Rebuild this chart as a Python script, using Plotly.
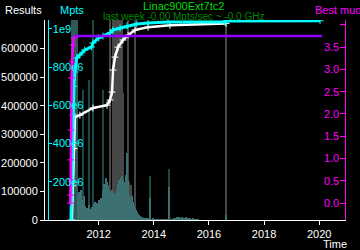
import plotly.graph_objects as go
import pandas as pd

FONT = "Liberation Sans, Arial, sans-serif"

# ---- cumulative results (left axis) ----
res_dates = ["2011-01-11", "2011-01-25", "2011-02-07", "2011-02-20", "2011-04-27", "2011-10-17",
             "2012-04-20", "2012-05-30", "2012-06-26", "2012-07-08", "2012-08-04", "2012-09-13",
             "2012-11-18", "2013-01-24", "2013-04-27", "2013-10-16", "2014-08-03", "2016-08-15"]
res_vals = [0, 120000, 250000, 361000, 367000, 392000,
            402000, 420000, 448000, 525000, 570000, 605000,
            630000, 647000, 665000, 675000, 682000, 688000]

# ---- cumulative Mpts ----
mpts_dates = ["2010-12-29", "2011-01-11", "2011-01-25", "2011-02-07", "2011-02-20", "2011-03-15",
              "2011-04-27", "2011-06-30", "2011-09-29", "2011-10-17", "2012-01-01", "2012-02-26",
              "2012-05-30", "2012-07-08", "2012-10-10", "2013-01-11", "2013-05-19", "2013-10-16",
              "2014-07-07", "2016-07-28", "2016-08-15", "2020-01-13"]
mpts_vals = [0, 200e6, 550e6, 700e6, 775e6, 848e6,
             864e6, 890e6, 906e6, 927e6, 953e6, 963e6,
             979e6, 995e6, 1005e6, 1016e6, 1026e6, 1031e6,
             1037e6, 1037e6, 1042e6, 1043e6]

# ---- best muon ----
muon_dates = ["2010-12-20", "2010-12-24", "2010-12-26", "2010-12-28", "2010-12-30",
              "2011-01-05", "2011-01-11", "2011-01-25", "2011-02-07"]
muon_vals = [0.0, 0.18, 0.52, 0.97, 1.64, 2.81, 3.17, 3.55, 3.71]
best_dates = ["2011-02-07", "2020-02-08"]
best_vals = [3.75, 3.75]

# ---- activity histogram (relative heights, 0..200) ----
hist_start = "2011-04-01"
hist_vals = [25, 28, 22, 30, 20, 18, 24, 14, 10, 12, 9, 15, 11, 8, 13, 10, 16, 18, 14, 17,
             12, 20, 15, 22, 18, 30, 36, 33, 42, 38, 35, 30, 28, 25, 30, 24, 27, 22, 26, 30,
             36, 40, 38, 42, 44, 40, 35, 38, 45, 67, 40, 25, 22, 20, 24, 18, 15, 12, 10, 8,
             6, 5, 4, 3, 3, 2, 2, 2,
             2, 2, 1, 2, 22, 1, 1, 2, 1, 1, 1, 1, 1, 1, 1, 1, 1, 1, 1, 1, 1, 1, 1, 33,
             1, 1, 1, 1, 2, 2, 2, 3, 2, 3, 2, 2, 3, 2, 2, 2, 3, 2, 2, 2, 2, 1, 1, 2, 1, 1, 1, 1, 1]
band_dates = ["2011-02-14"]
band_vals = [200]
dark_dates = ["2011-01-25", "2011-06-07", "2011-08-25", "2011-10-17", "2012-02-26",
              "2013-11-11", "2014-07-20"]
dark_vals = [120, 130, 140, 200, 130, 44, 51]
grey_dates = ["2012-05-30", "2012-07-08", "2012-07-21", "2012-08-04", "2012-08-17", "2012-08-31",
              "2012-09-13", "2012-10-10", "2012-11-05", "2012-11-18", "2013-01-24", "2013-02-06",
              "2013-02-20", "2013-03-05", "2013-04-27", "2016-08-15"]
grey_vals = [200, 200, 200, 200, 200, 200, 200, 200, 200, 127, 200, 38, 30, 35, 200, 200]
tail_dates = ["2016-08-15"]
tail_vals = [5]

DAY_MS = 86400000
bin_w = 13.25 * DAY_MS
thin_w = 6 * DAY_MS
hist_dates = pd.date_range(hist_start, periods=len(hist_vals), freq="318h")

fig = go.Figure()

fig.add_trace(go.Bar(x=band_dates, y=band_vals, width=[90 * DAY_MS], marker=dict(color="#2e5a5a", line_width=0),
                     yaxis="y", hoverinfo="skip"))
fig.add_trace(go.Bar(x=grey_dates, y=grey_vals, width=thin_w, marker=dict(color="#474747", line_width=0),
                     yaxis="y", hoverinfo="skip"))
fig.add_trace(go.Bar(x=dark_dates, y=dark_vals, width=thin_w, marker=dict(color="#1d4848", line_width=0),
                     yaxis="y", hoverinfo="skip"))
fig.add_trace(go.Bar(x=hist_dates, y=hist_vals, width=bin_w, marker=dict(color="#3d7070", line_width=0),
                     yaxis="y", hoverinfo="skip"))
fig.add_trace(go.Bar(x=tail_dates, y=tail_vals, width=bin_w, marker=dict(color="#3d7070", line_width=0),
                     yaxis="y", hoverinfo="skip"))

cross = dict(symbol="cross-thin", size=5)
fig.add_trace(go.Scatter(x=res_dates, y=res_vals, mode="lines+markers", yaxis="y2",
                         line=dict(color="white", width=2.5),
                         marker=dict(**cross, line=dict(color="white", width=1))))
fig.add_trace(go.Scatter(x=mpts_dates, y=mpts_vals, mode="lines+markers", yaxis="y3",
                         line=dict(color="#00ffff", width=3),
                         marker=dict(**cross, line=dict(color="#00ffff", width=1))))
fig.add_trace(go.Scatter(x=muon_dates, y=muon_vals, mode="lines+markers", yaxis="y4",
                         line=dict(color="#ff00ff", width=2.5),
                         marker=dict(**cross, line=dict(color="#ff00ff", width=1))))
fig.add_trace(go.Scatter(x=best_dates, y=best_vals, mode="lines", yaxis="y4",
                         line=dict(color="#9000ff", width=2.5)))

TS = 11
fig.update_layout(
    width=360, height=250,
    margin=dict(l=45, r=15, t=20, b=30, autoexpand=False),
    paper_bgcolor="black", plot_bgcolor="black",
    showlegend=False, barmode="overlay", bargap=0,
    font=dict(family=FONT, size=TS, color="white"),
    xaxis=dict(type="date", range=["2010-01-19", "2020-12-09"], automargin=False,
               tick0="2012-01-01", dtick="M24", tickformat="%Y",
               ticks="outside", ticklen=4, tickcolor="white",
               showline=True, linecolor="white", linewidth=1,
               showgrid=False, zeroline=False, tickfont=dict(family=FONT, size=TS, color="white")),
    yaxis=dict(range=[0, 200], visible=False, showgrid=False, zeroline=False, automargin=False),
    yaxis2=dict(overlaying="y", side="left", anchor="x", range=[0, 700000], automargin=False,
                tickvals=[0, 100000, 200000, 300000, 400000, 500000, 600000], tickformat="d",
                ticks="outside", ticklen=4, tickcolor="white",
                showline=True, linecolor="white", linewidth=1,
                showgrid=False, zeroline=False, tickfont=dict(family=FONT, size=TS, color="white")),
    yaxis3=dict(overlaying="y", side="left", anchor="free", position=0.01, range=[0, 1.047e9],
                automargin=False,
                tickvals=[0, 2e8, 4e8, 6e8, 8e8, 1e9],
                ticktext=["0", "200e6", "400e6", "600e6", "800e6", "1e9"],
                ticks="inside", ticklen=3, tickcolor="#00ffff", ticklabelposition="inside",
                showline=True, linecolor="#00ffff", linewidth=1,
                showgrid=False, zeroline=False, tickfont=dict(family=FONT, size=TS, color="#00ffff")),
    yaxis4=dict(overlaying="y", side="right", anchor="x", range=[-0.38, 4.11], automargin=False,
                tickvals=[0, 0.5, 1, 1.5, 2, 2.5, 3, 3.5, 4], tickformat=".1f",
                ticks="inside", ticklen=5, tickcolor="#ff00ff", ticklabelposition="inside",
                showline=True, linecolor="#ff00ff", linewidth=1,
                showgrid=False, zeroline=False, tickfont=dict(family=FONT, size=TS, color="#ff00ff")),
    annotations=[
        dict(text="Results", xref="paper", yref="paper", x=-0.14, y=1.05, xanchor="left", yanchor="middle",
             showarrow=False, font=dict(family=FONT, size=11, color="white")),
        dict(text="Mpts", xref="paper", yref="paper", x=0.043, y=1.05, xanchor="left", yanchor="middle",
             showarrow=False, font=dict(family=FONT, size=11, color="#00ffff")),
        dict(text="Linac900Ext7tc2", xref="paper", yref="paper", x=0.463, y=1.068, xanchor="center",
             yanchor="middle", showarrow=False, font=dict(family=FONT, size=11, color="#00dd00")),
        dict(text="last week -0.00 Mpts/sec ~ -0.0 GHz", xref="paper", yref="paper", x=0.463, y=1.017,
             xanchor="center", yanchor="middle",
             showarrow=False, font=dict(family=FONT, size=10, color="#008800")),
        dict(text="Best muon", xref="paper", yref="paper", x=0.893, y=1.05, xanchor="left", yanchor="middle",
             showarrow=False, font=dict(family=FONT, size=11, color="#ff00ff")),
        dict(text="Time", xref="paper", yref="paper", x=0.92, y=-0.12, xanchor="left", yanchor="middle",
             showarrow=False, font=dict(family=FONT, size=11, color="white")),
    ],
)

fig.write_html("out.html")
